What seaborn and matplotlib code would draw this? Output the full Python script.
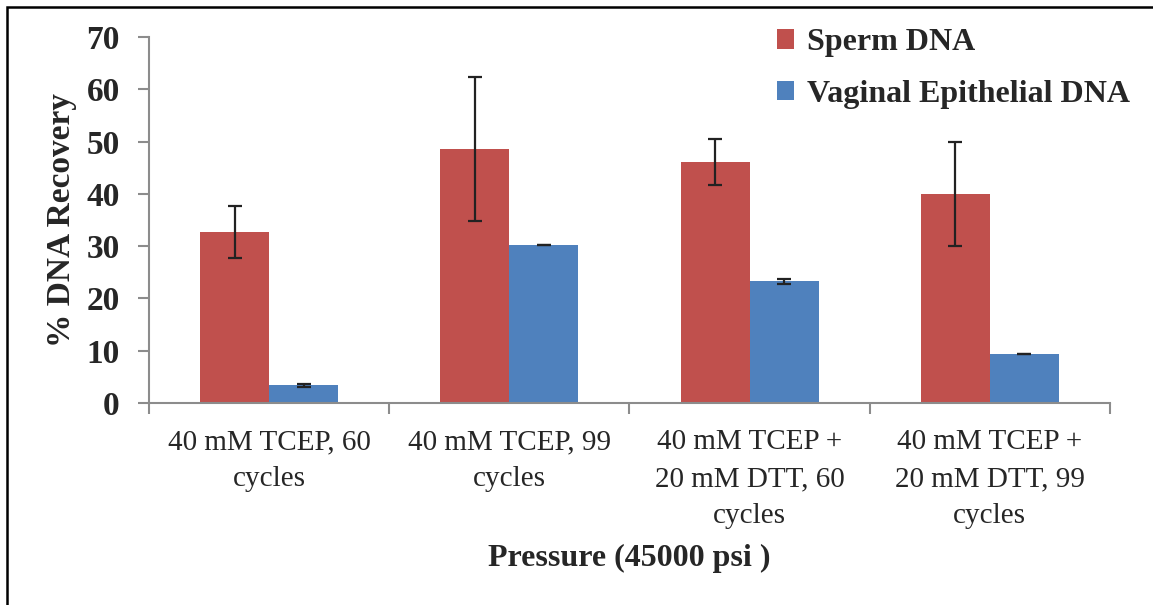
import pandas as pd
import matplotlib.pyplot as plt
import seaborn as sns
from matplotlib.patches import Rectangle
from matplotlib.ticker import FixedLocator

# data
conditions = [
    "40 mM TCEP, 60\ncycles",
    "40 mM TCEP, 99\ncycles",
    "40 mM TCEP +\n20 mM DTT, 60\ncycles",
    "40 mM TCEP +\n20 mM DTT, 99\ncycles",
]
series = ["Sperm DNA", "Vaginal Epithelial DNA"]
sperm = [32.7, 48.6, 46.1, 40.0]
sperm_err = [5.0, 13.8, 4.4, 10.0]
vaginal = [3.4, 30.2, 23.3, 9.4]
vaginal_err = [0.3, 0.05, 0.5, 0.05]
yticks = [0, 10, 20, 30, 40, 50, 60, 70]

colors = {"Sperm DNA": "#C0504D", "Vaginal Epithelial DNA": "#4F81BD"}

df = pd.DataFrame({
    "condition": conditions * 2,
    "series": [series[0]] * 4 + [series[1]] * 4,
    "value": sperm + vaginal,
})

sns.set_theme(style="white")
plt.rcParams["font.family"] = ["Liberation Serif", "DejaVu Serif"]

fig = plt.figure(figsize=(11.53, 6.05), dpi=100)
ax = fig.add_axes([0.1292, 0.3339, 0.8335, 0.6049])

sns.barplot(data=df, x="condition", y="value", hue="series", palette=colors,
            width=0.575, saturation=1, errorbar=None, linewidth=0, ax=ax)

# error bars on top of the bars seaborn drew
for cont, errs in zip(ax.containers, [sperm_err, vaginal_err]):
    for bar, e in zip(cont, errs):
        ax.errorbar(bar.get_x() + bar.get_width() / 2, bar.get_height(), yerr=e,
                    fmt="none", ecolor="#222222", elinewidth=1.6, capsize=5,
                    capthick=1.6, zorder=5)

ax.set_ylim(0, 70)
ax.set_xlim(-0.5, 3.5)
ax.set_yticks(yticks)
ax.set_yticklabels([str(t) for t in yticks], fontsize=24, fontweight="bold")
ax.tick_params(axis="y", length=8, width=1.5, color="#8c8c8c", pad=13, left=True)

ax.xaxis.set_minor_locator(FixedLocator([-0.5, 0.5, 1.5, 2.5, 3.5]))
ax.tick_params(axis="x", which="major", length=0, pad=19, labelsize=21)
ax.tick_params(axis="x", which="minor", length=8, width=1.5, color="#8c8c8c",
               bottom=True)
for lbl in ax.get_xticklabels():
    lbl.set_linespacing(1.55)

for s in ["top", "right"]:
    ax.spines[s].set_visible(False)
for s in ["left", "bottom"]:
    ax.spines[s].set_color("#8c8c8c")
    ax.spines[s].set_linewidth(1.5)

ax.set_ylabel("% DNA Recovery", fontsize=24, fontweight="bold")
ax.yaxis.set_label_coords(-0.075, 0.5)
ax.set_xlabel("Pressure (45000 psi )", fontsize=23, fontweight="bold")
ax.xaxis.set_label_coords(0.5, -0.385)

handles, labels = ax.get_legend_handles_labels()
if ax.get_legend() is not None:
    ax.get_legend().remove()
fig.legend(handles, labels, loc="upper left", bbox_to_anchor=(0.657, 0.985),
           frameon=False, prop={"size": 23, "weight": "bold"},
           handlelength=0.55, handleheight=0.55, handletextpad=0.4,
           labelspacing=0.7, borderpad=0.1)

# outer frame of the picture
fig.patches.append(Rectangle((0.006, -0.1), 1.2, 1.088, transform=fig.transFigure,
                             fill=False, edgecolor="black", linewidth=1.8))

fig.savefig("out.png", dpi=100)
